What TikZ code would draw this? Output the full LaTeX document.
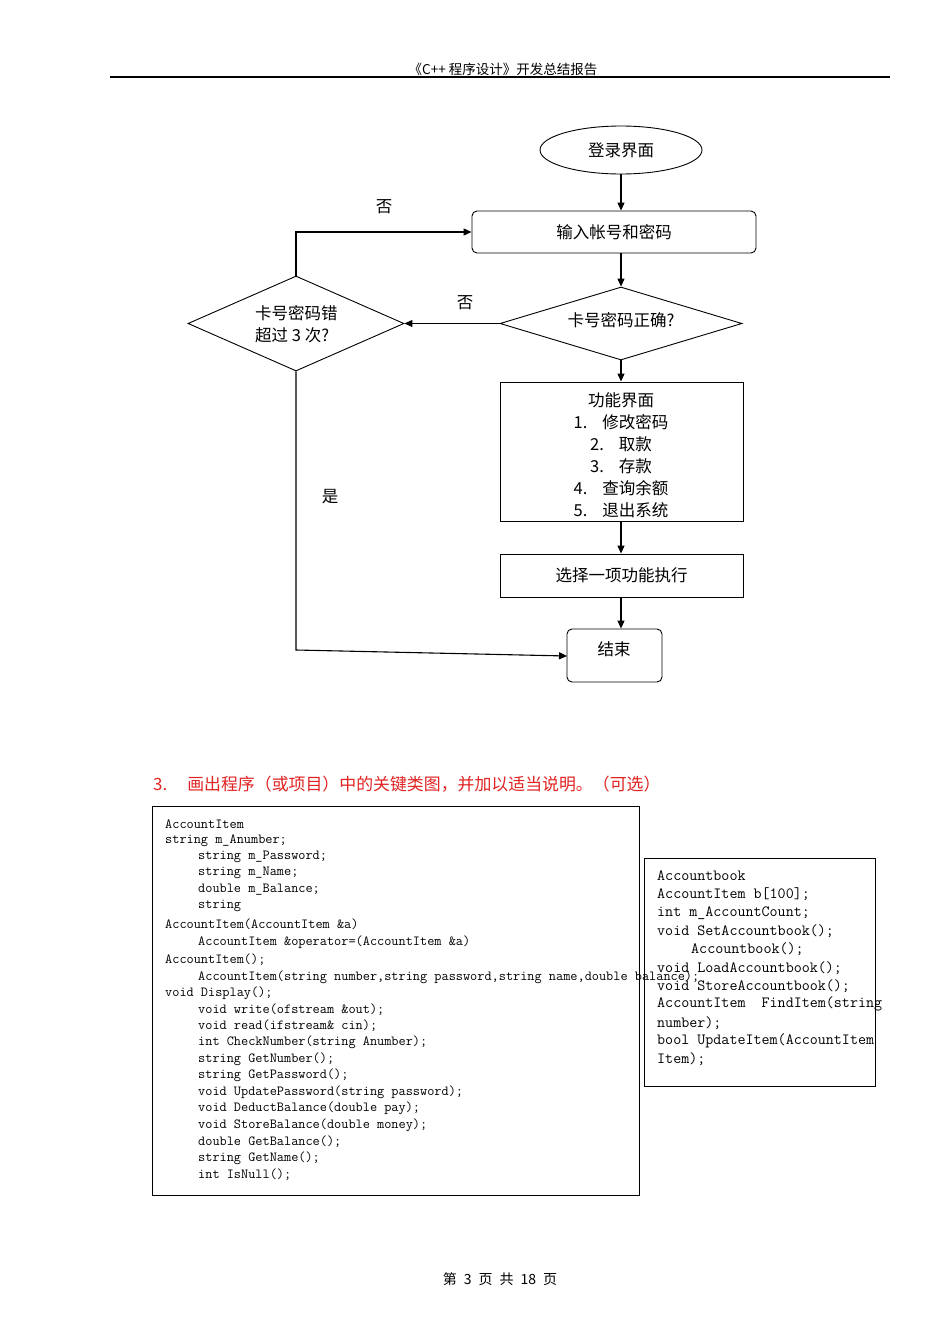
\documentclass[tikz,border=0pt]{standalone}
\usepackage{fontspec}
\newfontfamily\cjk{Noto Sans CJK SC}
\usetikzlibrary{arrows.meta,shapes.geometric}
\definecolor{hred}{RGB}{225,35,35}
\begin{document}
\begin{tikzpicture}[x=1pt,y=-1pt,
  arr/.style={-{Triangle[length=8pt,width=7pt]}, line width=1.1pt},
  shp/.style={draw, line width=0.9pt, inner sep=0pt},
  cn/.style={font=\cjk\fontsize{16.5}{22}\selectfont, inner sep=0pt},
  small/.style={font=\cjk\fontsize{13.5}{15}\selectfont, inner sep=0pt},
  codeL/.style={font=\ttfamily\fontsize{13.9}{16}\selectfont, anchor=west, inner sep=0pt},
  codeR/.style={font=\ttfamily\fontsize{15.6}{18}\selectfont, anchor=west, inner sep=0pt}]
\useasboundingbox (0,0) rectangle (950,1344);
\fill[white] (0,0) rectangle (950,1344);

% header
\node[small] (hdr) at (503,69) {《C++ 程序设计》开发总结报告};
\coordinate (hl) at (110,77);
\coordinate (hr) at (890,77);
\draw[line width=1.6pt] (hl) -- (hr);

% flowchart
\node[shp, ellipse, minimum width=162pt, minimum height=48pt, cn] (login) at (621,150) {登录界面};
\node[shp, rounded corners=5pt, minimum width=284pt, minimum height=42pt, cn] (input) at (614,232) {输入帐号和密码};
\node[shp, diamond, aspect=3.3, minimum width=242pt, minimum height=73pt] (ok) at (621,323.5) {};
\node[cn] (okt) at (621,320) {卡号密码正确?};
\node[shp, minimum width=243pt, minimum height=139pt] (menu) at (621.5,451.5) {};
\node[cn, align=center] (menut) at (621,455)
  {功能界面\\1.\hspace{0.9em}修改密码\\2.\hspace{0.9em}取款\\3.\hspace{0.9em}存款\\4.\hspace{0.9em}查询余额\\5.\hspace{0.9em}退出系统};
\node[shp, minimum width=243pt, minimum height=43pt, cn] (sel) at (621.5,575.5) {选择一项功能执行};
\node[shp, rounded corners=5pt, minimum width=95pt, minimum height=53pt] (end) at (614.5,655.5) {};
\node[cn] (endt) at (614,649) {结束};
\node[shp, diamond, aspect=2.27, minimum width=216pt, minimum height=95pt] (err) at (296,323.5) {};
\node[cn, align=left, anchor=west] (errt) at (255,324.5) {卡号密码错\\超过 3 次?};

\coordinate (c0) at (input.south -| ok.north);
\coordinate (c1) at (menu.north -| ok.south);
\coordinate (c2) at (menu.south -| ok.south);
\coordinate (c3) at (sel.north -| ok.south);
\coordinate (c4) at (sel.south -| ok.south);
\coordinate (c5) at (end.north -| ok.south);
\draw[arr] (login.south) -- (login.south |- input.north);
\draw[arr] (c0) -- (ok.north);
\draw[arr] (ok.south) -- (c1);
\draw[arr] (c2) -- (c3);
\draw[arr] (c4) -- (c5);
\draw[arr] (ok.west) -- (err.east);
\draw[arr] (err.north) |- (input.west);
\coordinate (bend) at (296,650);
\coordinate (endin) at (567,656);
\draw[arr] (err.south) -- (bend) -- (endin);

\node[cn] (no1) at (384,207) {否};
\node[cn] (no2) at (465,303) {否};
\node[cn] (yes) at (330,497) {是};

% heading
\node[font=\cjk\fontsize{16.9}{20}\selectfont, inner sep=0pt, text=hred, anchor=west] (h3) at (153,784) {3.\hspace{20pt}画出程序（或项目）中的关键类图，并加以适当说明。（可选）};

% class boxes
\draw[line width=0.9pt] (152,806) rectangle (639,1195);
\draw[line width=0.9pt] (644,858) rectangle (875,1086);

\foreach \yy/\xx/\tt [count=\i] in {
 824/165/AccountItem,
 841/165/string m\_Anumber;,
 857/198/string m\_Password;,
 873/198/string m\_Name;,
 890/198/double m\_Balance;,
 906/198/string,
 924/165/AccountItem(AccountItem \&a),
 942/198/AccountItem \&operator=(AccountItem \&a),
 960/165/AccountItem();,
 977/198/{AccountItem(string number,string password,string name,double balance);},
 993/165/void Display();,
 1010/198/void write(ofstream \&out);,
 1026/198/void read(ifstream\& cin);,
 1042/198/int CheckNumber(string Anumber);,
 1059/198/string GetNumber();,
 1075/198/string GetPassword();,
 1092/198/void UpdatePassword(string password);,
 1108/198/void DeductBalance(double pay);,
 1125/198/void StoreBalance(double money);,
 1142/198/double GetBalance();,
 1158/198/string GetName();,
 1175/198/int IsNull();}
 { \node[codeL] (cl\i) at (\xx,\yy) {\tt}; }

\foreach \yy/\xx/\tt [count=\i] in {
 876/657/Accountbook,
 894/657/AccountItem b[100];,
 913/657/int m\_AccountCount;,
 931/657/void SetAccountbook();,
 949/691/Accountbook();,
 968/657/void LoadAccountbook();,
 986/657/void StoreAccountbook();,
 1004/657/AccountItem\ \ FindItem(string,
 1023/657/number);,
 1041/657/bool UpdateItem(AccountItem,
 1059/657/Item);}
 { \node[codeR] (cr\i) at (\xx,\yy) {\tt}; }

% footer
\node[font=\cjk\fontsize{14}{16}\selectfont, inner sep=0pt] (ftr) at (500,1279) {第\hspace{0.5em}3\hspace{0.5em}页\hspace{0.5em}共\hspace{0.5em}18\hspace{0.5em}页};
\end{tikzpicture}
\end{document}
